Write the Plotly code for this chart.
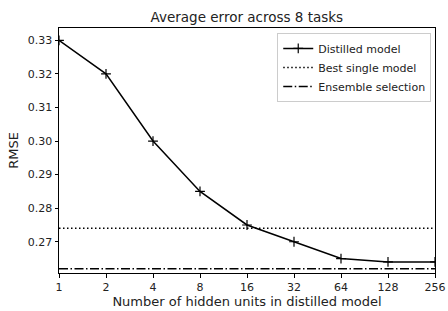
import plotly.graph_objects as go

units = [1, 2, 4, 8, 16, 32, 64, 128, 256]
tick_labels = ["1", "2", "4", "8", "16", "32", "64", "128", "256"]
distilled = [0.330, 0.320, 0.300, 0.285, 0.275, 0.270, 0.265, 0.264, 0.264]
best_single = 0.274
ensemble = 0.262

fig = go.Figure()
fig.add_trace(go.Scatter(
    x=units, y=distilled, mode="lines+markers", name="Distilled model",
    line=dict(color="black", width=1.5),
    marker=dict(symbol="cross-thin", size=7, line=dict(color="black", width=1.2)),
))
fig.add_trace(go.Scatter(
    x=[units[0], units[-1]], y=[best_single, best_single], mode="lines",
    name="Best single model",
    line=dict(color="black", width=1.5, dash="1.5px,2.5px"),
))
fig.add_trace(go.Scatter(
    x=[units[0], units[-1]], y=[ensemble, ensemble], mode="lines",
    name="Ensemble selection",
    line=dict(color="black", width=1.5, dash="9px,2.5px,1.5px,2.5px"),
))

fig.update_layout(
    width=448, height=311,
    margin=dict(l=59, r=13, t=28, b=38),
    paper_bgcolor="white", plot_bgcolor="white",
    font=dict(family="DejaVu Sans", size=11, color="#222222"),
    title=dict(text="Average error across 8 tasks", x=0.551, xanchor="center",
               y=1 - 17 / 311, yanchor="middle", font=dict(size=13.5)),
    showlegend=True,
    legend=dict(x=0.99, xanchor="right", y=0.98, yanchor="top",
                bgcolor="rgba(255,255,255,0.8)", bordercolor="#cccccc", borderwidth=1,
                font=dict(size=11), itemwidth=30, tracegroupgap=0),
)
fig.update_xaxes(
    type="log", range=[0, 2.40824], tickvals=units, ticktext=tick_labels,
    automargin=False,
    showline=True, linecolor="black", linewidth=1, mirror=True,
    ticks="outside", ticklen=3.5, tickcolor="black", showgrid=False, zeroline=False,
    title=dict(text="Number of hidden units in distilled model", standoff=3),
)
fig.update_yaxes(
    range=[0.2607, 0.33366], tickvals=[0.27, 0.28, 0.29, 0.30, 0.31, 0.32, 0.33],
    tickformat=".2f", automargin=False,
    showline=True, linecolor="black", linewidth=1, mirror=True,
    ticks="outside", ticklen=3.5, tickcolor="black", showgrid=False, zeroline=False,
    title=dict(text="RMSE", standoff=6),
)
fig.write_html("out.html")
